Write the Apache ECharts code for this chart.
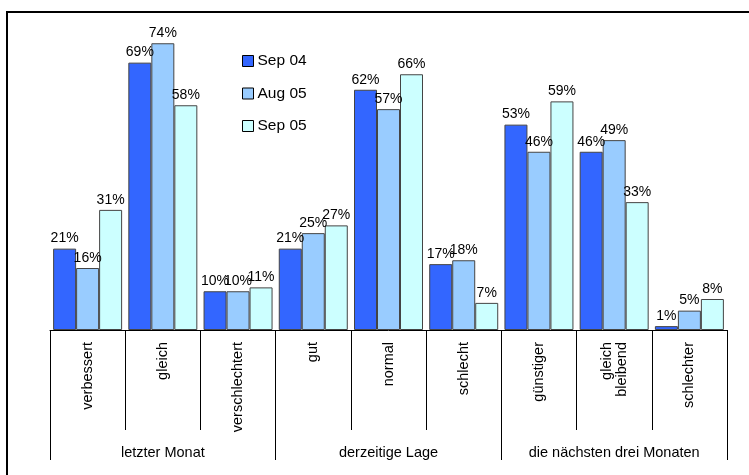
<!DOCTYPE html>
<html>
<head>
<meta charset="utf-8">
<script src="https://cdn.jsdelivr.net/npm/echarts@6/dist/echarts.min.js"></script>
<style>
  html, body { margin: 0; padding: 0; background: #fff; }
  #chart { width: 749px; height: 475px; }
</style>
</head>
<body>
<div id="chart"></div>
<script>
// Kategorien und Gruppen
var categories = ['verbessert', 'gleich', 'verschlechtert', 'gut', 'normal', 'schlecht', 'günstiger', 'gleich\nbleibend', 'schlechter'];
var groups = ['letzter Monat', 'derzeitige Lage', 'die nächsten drei Monaten'];
var seriesNames = ['Sep 04', 'Aug 05', 'Sep 05'];

// Werte in Prozent
var sep04 = [21, 69, 10, 21, 62, 17, 53, 46, 1];
var aug05 = [16, 74, 10, 25, 57, 18, 46, 49, 5];
var sep05 = [31, 58, 11, 27, 66, 7, 59, 33, 8];

var colors = ['#3366ff', '#99ccff', '#ccffff'];
var font = 'Liberation Sans, Arial, sans-serif';

var chart = echarts.init(document.getElementById('chart'));

function makeSeries(name, data, color) {
    return {
        name: name,
        type: 'bar',
        data: data,
        barWidth: 23,
        barGap: '0%',
        itemStyle: { color: color, borderColor: '#444', borderWidth: 1 },
        label: {
            show: true,
            position: 'top',
            distance: 3,
            formatter: '{c}%',
            color: '#000',
            fontFamily: font,
            fontSize: 14
        }
    };
}

var option = {
    animation: false,
    backgroundColor: '#fff',
    grid: { left: 50, right: 22, top: 20, bottom: 145 },
    legend: {
        orient: 'vertical',
        left: 237,
        top: 48,
        itemWidth: 11,
        itemHeight: 11,
        itemGap: 16.5,
        icon: 'rect',
        data: seriesNames,
        itemStyle: { borderColor: '#000', borderWidth: 1 },
        textStyle: { fontFamily: font, fontSize: 15.5, color: '#000', padding: [0, 0, 0, -1] }
    },
    xAxis: [{
        type: 'category',
        data: categories,
        axisLine: { show: true, lineStyle: { color: '#000', width: 1 } },
        axisTick: { show: true, length: 100, lineStyle: { color: '#000' } },
        axisLabel: {
            rotate: 90,
            margin: 12,
            interval: 0,
            color: '#000',
            fontFamily: font,
            fontSize: 14.5,
            lineHeight: 15
        }
    }, {
        type: 'category',
        position: 'bottom',
        data: groups,
        axisLine: { show: false },
        axisTick: { show: true, length: 130, lineStyle: { color: '#000' } },
        axisLabel: {
            margin: 115,
            interval: 0,
            color: '#000',
            fontFamily: font,
            fontSize: 14.5
        }
    }],
    yAxis: {
        type: 'value',
        min: 0,
        max: 80,
        show: false
    },
    series: [
        makeSeries(seriesNames[0], sep04, colors[0]),
        makeSeries(seriesNames[1], aug05, colors[1]),
        makeSeries(seriesNames[2], sep05, colors[2])
    ],
    graphic: [{
        type: 'rect',
        shape: { x: 7, y: 12, width: 760, height: 480 },
        style: { fill: null, stroke: '#000', lineWidth: 2 },
        silent: true
    }]
};

chart.setOption(option);
</script>
</body>
</html>
